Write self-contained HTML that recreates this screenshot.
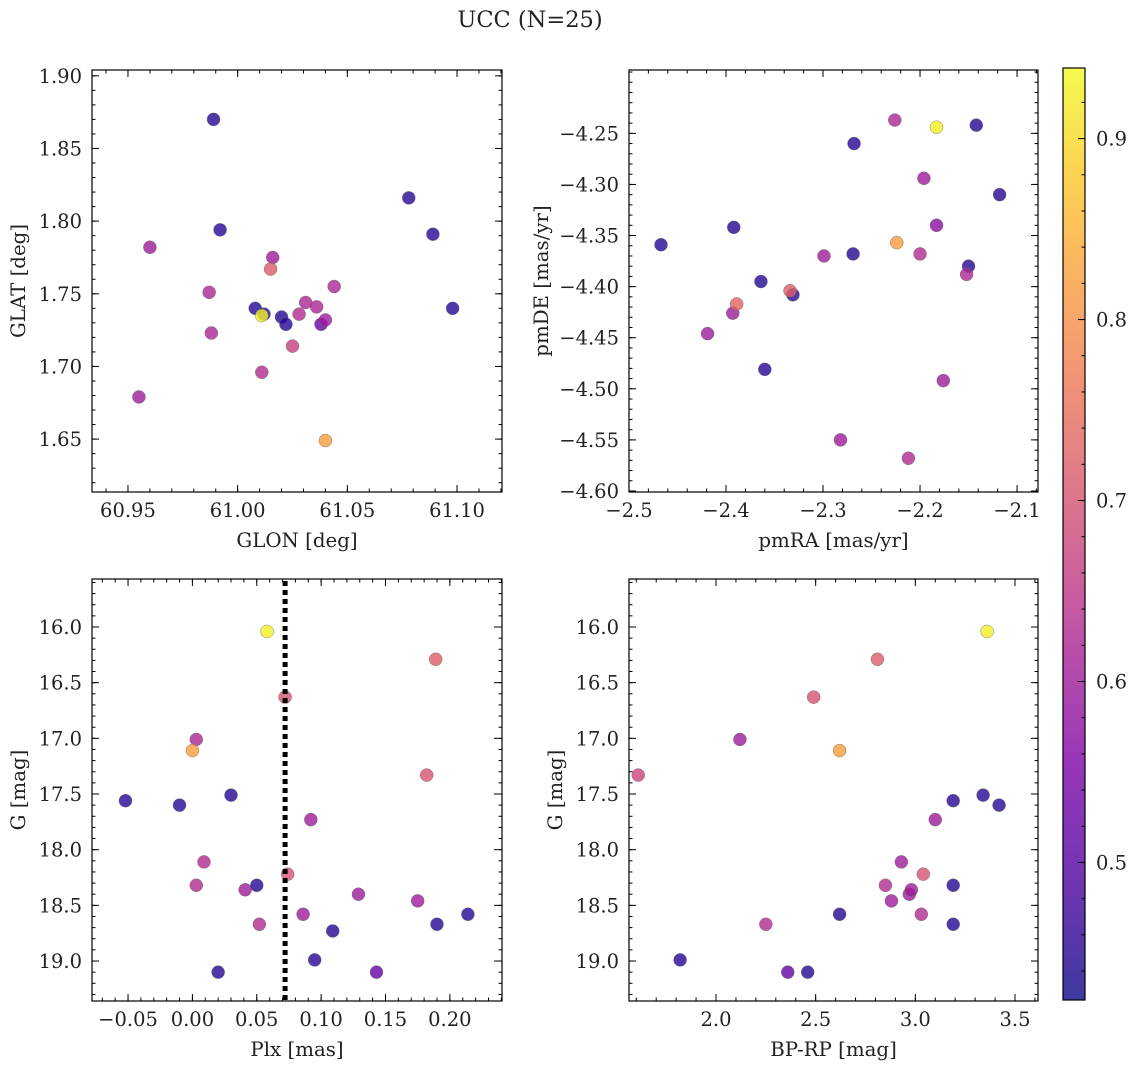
<!DOCTYPE html>
<html><head><meta charset="utf-8"><style>
body{margin:0;background:#fff;}
svg text{font-family:"DejaVu Serif","Liberation Serif",serif;fill:#222;}
</style></head><body>
<svg id="fig" width="1136" height="1068" xmlns="http://www.w3.org/2000/svg">
<defs><linearGradient id="plasma" x1="0" y1="1" x2="0" y2="0">
<stop offset="0" stop-color="#0d0887"/><stop offset="0.125" stop-color="#4c02a1"/><stop offset="0.25" stop-color="#7e03a8"/><stop offset="0.375" stop-color="#a92395"/><stop offset="0.5" stop-color="#cc4778"/><stop offset="0.625" stop-color="#e66c5c"/><stop offset="0.75" stop-color="#f89540"/><stop offset="0.875" stop-color="#fdc328"/><stop offset="1" stop-color="#f0f921"/></linearGradient></defs>
<text x="530" y="27" font-size="22.5" text-anchor="middle">UCC (N=25)</text>
</svg>
<script>
const p1x=[60.989,60.960,60.992,61.078,61.089,61.098,60.955,60.987,60.988,61.016,61.015,61.008,61.012,61.011,61.020,61.022,61.011,61.025,61.028,61.031,61.036,61.038,61.040,61.044,61.040];
const p1y=[1.870,1.782,1.794,1.816,1.791,1.740,1.679,1.751,1.723,1.775,1.767,1.740,1.736,1.735,1.734,1.729,1.696,1.714,1.736,1.744,1.741,1.729,1.732,1.755,1.649];
const p1c=[0.45,0.6,0.45,0.45,0.45,0.45,0.6,0.62,0.62,0.6,0.72,0.45,0.45,0.93,0.45,0.45,0.63,0.67,0.63,0.62,0.62,0.52,0.6,0.62,0.82];
const p2x=[-2.467,-2.392,-2.393,-2.419,-2.389,-2.364,-2.331,-2.334,-2.360,-2.268,-2.269,-2.299,-2.282,-2.226,-2.224,-2.183,-2.196,-2.200,-2.183,-2.150,-2.152,-2.142,-2.118,-2.176,-2.212];
const p2y=[-4.359,-4.342,-4.426,-4.446,-4.417,-4.395,-4.408,-4.404,-4.481,-4.260,-4.368,-4.370,-4.550,-4.237,-4.357,-4.244,-4.294,-4.368,-4.340,-4.380,-4.388,-4.242,-4.310,-4.492,-4.568];
const p2c=[0.45,0.45,0.6,0.6,0.73,0.45,0.45,0.72,0.45,0.45,0.45,0.6,0.6,0.62,0.82,0.93,0.6,0.63,0.57,0.45,0.62,0.45,0.45,0.6,0.63];
const p3x=[-0.052,-0.010,0.030,0.003,0.000,0.058,0.072,0.189,0.182,0.092,0.009,0.003,0.041,0.050,0.074,0.086,0.052,0.020,0.095,0.109,0.129,0.143,0.175,0.190,0.214];
const p3y=[17.56,17.60,17.51,17.01,17.11,16.04,16.63,16.29,17.33,17.73,18.11,18.32,18.36,18.32,18.22,18.58,18.67,19.10,18.99,18.73,18.40,19.10,18.46,18.67,18.58];
const p3c=[0.45,0.45,0.45,0.62,0.82,0.93,0.7,0.72,0.7,0.6,0.63,0.63,0.6,0.45,0.7,0.6,0.63,0.45,0.45,0.45,0.6,0.52,0.6,0.45,0.45];
const p4x=[3.36,2.81,2.49,2.12,2.62,1.61,3.34,3.42,3.19,3.10,2.93,3.04,2.85,2.97,2.98,3.19,2.88,3.03,3.19,2.25,2.62,1.82,2.36,2.46];
const p4y=[16.04,16.29,16.63,17.01,17.11,17.33,17.51,17.60,17.56,17.73,18.11,18.22,18.32,18.40,18.36,18.32,18.46,18.58,18.67,18.67,18.58,18.99,19.10,19.10];
const p4c=[0.93,0.72,0.7,0.6,0.82,0.68,0.45,0.45,0.45,0.6,0.6,0.7,0.63,0.6,0.6,0.45,0.6,0.63,0.45,0.63,0.45,0.45,0.52,0.45];
const cmin=0.424,cmax=0.939;
const NS='http://www.w3.org/2000/svg';
const svg=document.getElementById('fig');
const TF=19.5, LF=19.8;
function mk(t,a,parent){const e=document.createElementNS(NS,t);for(const k in a)e.setAttribute(k,a[k]);(parent||svg).appendChild(e);return e;}
const stops=[[0,[13,8,135]],[0.125,[76,2,161]],[0.25,[126,3,168]],[0.375,[169,35,149]],[0.5,[204,71,120]],[0.625,[230,108,92]],[0.75,[248,149,64]],[0.875,[253,195,40]],[1,[240,249,33]]];
function plasma(v){let t=(v-cmin)/(cmax-cmin);t=Math.max(0,Math.min(1,t));
 for(let i=1;i<stops.length;i++){if(t<=stops[i][0]){const a=stops[i-1],b=stops[i];const f=(t-a[0])/(b[0]-a[0]);
 return 'rgb('+a[1].map((c,j)=>Math.round(c+(b[1][j]-c)*f)).join(',')+')';}}return 'rgb(240,249,33)';}
function fmt(v,d){let s=v.toFixed(d);if(s.startsWith('-'))s='\u2212'+s.slice(1);return s;}
function panel(name,box,xr,yr,xt,yt,xmin,ymin,dx,dy,xl,yl,xs,ys,cs,yoff){
 const [L,T,R,B]=box;
 const X=v=>L+(v-xr[0])/(xr[1]-xr[0])*(R-L);
 const Y=v=>B-(v-yr[0])/(yr[1]-yr[0])*(B-T);
 const g=mk('g',{});
 
 
 for(let i=0;i<xs.length;i++){
  const c=mk('circle',{cx:X(xs[i]),cy:Y(ys[i]),r:6.5,fill:plasma(cs[i]),'fill-opacity':0.8,stroke:'#666','stroke-width':0.4},g);
  
  
 }
 mk('rect',{x:L,y:T,width:R-L,height:B-T,fill:'none',stroke:'#000','stroke-width':1.2},g);
 const tk=(x1,y1,x2,y2)=>mk('line',{x1,y1,x2,y2,stroke:'#000','stroke-width':1},g);
 for(let v=Math.ceil(xr[0]/xmin-1e-9)*xmin;v<=xr[1]+1e-9;v+=xmin){const x=X(v);tk(x,B,x,B-3.5);tk(x,T,x,T+3.5);}
 for(let v=Math.ceil(yr[0]/ymin-1e-9)*ymin;v<=yr[1]+1e-9;v+=ymin){const y=Y(v);tk(L,y,L+3.5,y);tk(R,y,R-3.5,y);}
 xt.forEach(v=>{const x=X(v);tk(x,B,x,B-7);tk(x,T,x,T+7);
  const t=mk('text',{x:x,y:B+25,'font-size':TF,'text-anchor':'middle'},g);t.textContent=fmt(v,dx);
  });
 yt.forEach(v=>{const y=Y(v);tk(L,y,L+7,y);tk(R,y,R-7,y);
  const t=mk('text',{x:L-10,y:y+7,'font-size':TF,'text-anchor':'end'},g);t.textContent=fmt(v,dy);
  });
 const xa=mk('text',{x:(L+R)/2,y:B+55,'font-size':LF,'text-anchor':'middle'},g);xa.textContent=xl;
 
 const ya=mk('text',{x:0,y:0,'font-size':LF,'text-anchor':'middle',transform:`translate(${L-yoff},${(T+B)/2}) rotate(-90)`},g);ya.textContent=yl;
 
 return {X,Y,g};
}
panel('glon-glat-panel',[92,70,502,492],[60.9336,61.1205],[1.6136,1.904],[60.95,61.00,61.05,61.10],[1.65,1.70,1.75,1.80,1.85,1.90],0.01,0.01,2,2,'GLON [deg]','GLAT [deg]',p1x,p1y,p1c,67);
panel('pm-panel',[629,70,1038,492],[-2.5,-2.0784],[-4.601,-4.188],[-2.5,-2.4,-2.3,-2.2,-2.1],[-4.60,-4.55,-4.50,-4.45,-4.40,-4.35,-4.30,-4.25],0.02,0.01,1,2,'pmRA [mas/yr]','pmDE [mas/yr]',p2x,p2y,p2c,81);
const P3=panel('plx-g-panel',[92,579,502,1001],[-0.078,0.2405],[-19.359,-15.569],[-0.05,0,0.05,0.10,0.15,0.20],[],0.01,0.1,2,1,'Plx [mas]','G [mag]',p3x,p3y.map(v=>-v),p3c,67);
const P4=panel('color-g-panel',[629,579,1038,1001],[1.5635,3.6154],[-19.359,-15.569],[2.0,2.5,3.0,3.5],[],0.1,0.1,1,1,'BP-RP [mag]','G [mag]',p4x,p4y.map(v=>-v),p4c,67);
[[P3,92],[P4,629]].forEach(([P,L])=>{[16,16.5,17,17.5,18,18.5,19].forEach(v=>{const y=P.Y(-v);
 mk('line',{x1:L,y1:y,x2:L+7,y2:y,stroke:'#000'},P.g);mk('line',{x1:L+409,y1:y,x2:L+402,y2:y,stroke:'#000'},P.g);
 const t=mk('text',{x:L-10,y:y+7,'font-size':TF,'text-anchor':'end'},P.g);t.textContent=v.toFixed(1);
 });});
const plxMean=0.072;
const dl=mk('line',{x1:P3.X(plxMean),y1:581,x2:P3.X(plxMean),y2:1000,stroke:'#000','stroke-width':5,'stroke-dasharray':'5,4'});

const cb=mk('g',{});


const CT=68,CB=1000,CL=1063,CR=1085;
mk('rect',{x:CL,y:CT,width:CR-CL,height:CB-CT,fill:'url(#plasma)','fill-opacity':0.8},cb);
mk('rect',{x:CL,y:CT,width:CR-CL,height:CB-CT,fill:'none',stroke:'#000','stroke-width':1.2},cb);
const CY=v=>CB-(v-cmin)/(cmax-cmin)*(CB-CT);
for(let v=0.44;v<0.94;v+=0.02){mk('line',{x1:CR,y1:CY(v),x2:CR-3.5,y2:CY(v),stroke:'#000'},cb);}
[0.5,0.6,0.7,0.8,0.9].forEach(v=>{mk('line',{x1:CR,y1:CY(v),x2:CR-7,y2:CY(v),stroke:'#000'},cb);
 const t=mk('text',{x:CR+11,y:CY(v)+7,'font-size':TF},cb);t.textContent=v.toFixed(1);
 });
</script>
</body></html>
